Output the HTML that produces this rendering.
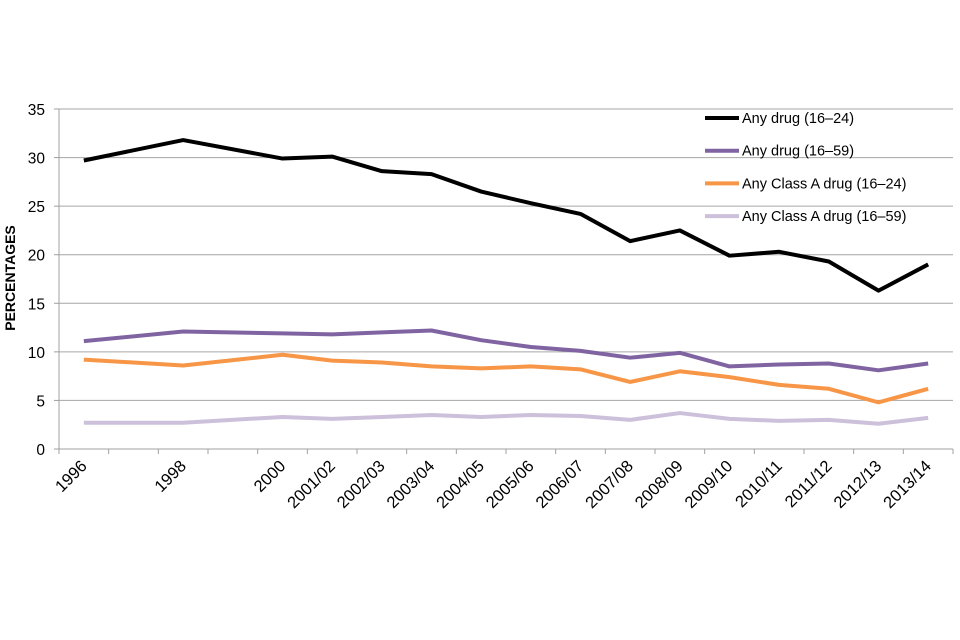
<!DOCTYPE html>
<html><head><meta charset="utf-8"><style>body{margin:0;background:#fff}svg{display:block;font-family:"Liberation Sans",sans-serif}</style></head>
<body>
<svg id="chart" width="960" height="640" xmlns="http://www.w3.org/2000/svg"></svg>
<script>
const categories=["1996","1997","1998","1999","2000","2001/02","2002/03","2003/04","2004/05","2005/06","2006/07","2007/08","2008/09","2009/10","2010/11","2011/12","2012/13","2013/14"];
const catLabels=["1996","","1998","","2000","2001/02","2002/03","2003/04","2004/05","2005/06","2006/07","2007/08","2008/09","2009/10","2010/11","2011/12","2012/13","2013/14"];
const anyDrug1624=[29.7,null,31.8,null,29.9,30.1,28.6,28.3,26.5,25.3,24.2,21.4,22.5,19.9,20.3,19.3,16.3,19.0];
const anyDrug1659=[11.1,null,12.1,null,11.9,11.8,12.0,12.2,11.2,10.5,10.1,9.4,9.9,8.5,8.7,8.8,8.1,8.8];
const classA1624=[9.2,null,8.6,null,9.7,9.1,8.9,8.5,8.3,8.5,8.2,6.9,8.0,7.4,6.6,6.2,4.8,6.2];
const classA1659=[2.7,null,2.7,null,3.3,3.1,3.3,3.5,3.3,3.5,3.4,3.0,3.7,3.1,2.9,3.0,2.6,3.2];
const yTicks=[0,5,10,15,20,25,30,35];
const seriesNames=["Any drug (16–24)","Any drug (16–59)","Any Class A drug (16–24)","Any Class A drug (16–59)"];
const svg=document.getElementById('chart');const NS="http://www.w3.org/2000/svg";
const L=59,R=953,T=109,B=449,yMax=35;
const step=(R-L)/categories.length;
const x=i=>L+step*(i+0.5);
const y=v=>B-(v/yMax)*(B-T);
function mk(t,a,txt){const e=document.createElementNS(NS,t);for(const k in a)e.setAttribute(k,a[k]);if(txt!==undefined)e.textContent=txt;svg.appendChild(e);return e;}
yTicks.forEach(v=>{
 const g=mk('line',{x1:L,x2:R,y1:y(v),y2:y(v),stroke:v===0?'#a0a0a0':'#a6a6a6','stroke-width':1});
 
 
 const t=mk('text',{x:45,y:y(v)+6,'text-anchor':'end','font-size':15.5,fill:'#000'},String(v));
 
 
 const tk=mk('line',{x1:L-5,x2:L,y1:y(v),y2:y(v),stroke:'#a0a0a0'});
 
 
});
const ax=mk('line',{x1:L,x2:L,y1:T,y2:B,stroke:'#a0a0a0'});


for(let i=0;i<=categories.length;i++){
 const tk=mk('line',{x1:L+step*i,x2:L+step*i,y1:B,y2:B+5,stroke:'#a0a0a0'});
 
 
}
catLabels.forEach((c,i)=>{if(!c)return;
 const px=x(i)+4,py=467;
 const t=mk('text',{x:px,y:py,'text-anchor':'end','font-size':16.5,transform:`rotate(-45 ${px} ${py})`},c);
 
 
});
const yt=mk('text',{x:15,y:278,'text-anchor':'middle','font-size':14,'font-weight':'bold',transform:'rotate(-90 15 278)'},'PERCENTAGES');


const all=[anyDrug1624,anyDrug1659,classA1624,classA1659];
const colors=['#000000','#8064a2','#f79646','#ccc0da'];
[3,2,1,0].forEach(s=>{
 const pts=all[s].map((v,i)=>v==null?null:x(i)+','+y(v)).filter(p=>p);
 const p=mk('polyline',{points:pts.join(' '),fill:'none',stroke:colors[s],'stroke-width':4,'stroke-linejoin':'round'});
 
 
});
seriesNames.forEach((n,s)=>{
 const ly=118+s*32.7;
 const l=mk('line',{x1:705,x2:739,y1:ly,y2:ly,stroke:colors[s],'stroke-width':4});
 
 
 const t=mk('text',{x:742,y:ly+5,'font-size':14.5},n);
 
 
});
</script>
</body></html>
